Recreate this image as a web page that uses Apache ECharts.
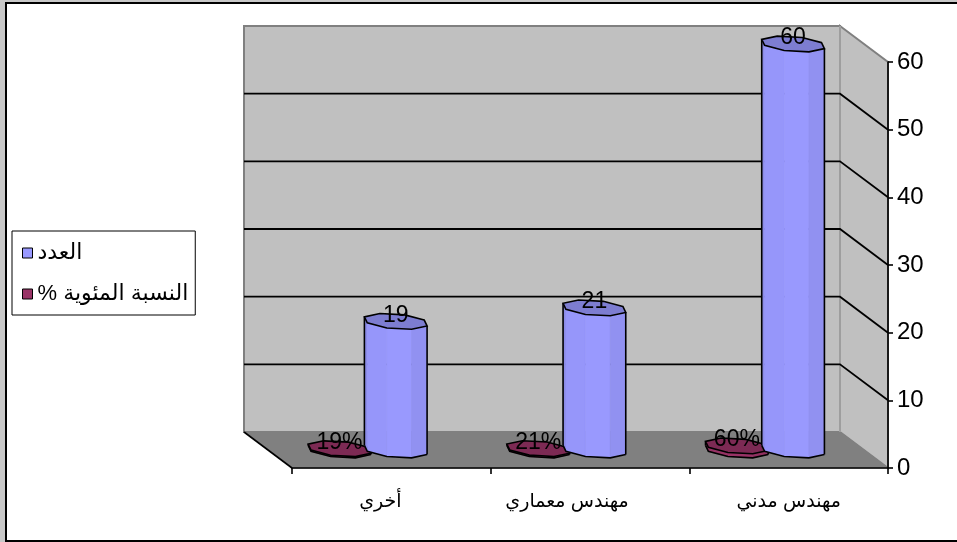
<!DOCTYPE html>
<html>
<head>
<meta charset="utf-8">
<script src="https://cdn.jsdelivr.net/npm/echarts@6/dist/echarts.min.js"></script>
<style>
  html, body { margin: 0; padding: 0; background: #fff; }
  #chart { width: 957px; height: 542px; }
</style>
</head>
<body>
<div id="chart"></div>
<script>
// Categories (axis runs right-to-left, first category on the right)
const categories = ['مهندس مدني', 'مهندس معماري', 'أخري'];
// Head count per category
const countValues = [60, 21, 19];
// Share of the total per category
const shareValues = [0.60, 0.21, 0.19];
// Value-axis ticks
const valueTicks = [0, 10, 20, 30, 40, 50, 60];

const countName = 'العدد';
const shareName = 'النسبة المئوية %\u200F';

// Projected offset from the front plane to the back wall (pixels)
const DEPTH = [-48, -36];
const FONT = 'Arial, "Liberation Sans", "DejaVu Sans", sans-serif';

// Rich-text style key per category label
const labelStyleKeys = ['c0', 'c1', 'c2'];

function shade(rgb, k) {
  return 'rgb(' + rgb.map(c => Math.max(0, Math.min(255, Math.round(c * k)))).join(',') + ')';
}

// Octagonal "cylinder" standing halfway into the floor depth
function makeCylinderRenderer(baseRgb, shift, labelOf) {
  return function (params, api) {
    const idx = api.value(0);
    const val = api.value(1);
    const band = api.size([1, 0])[0];
    const f = api.coord([idx, 0]);
    const t = api.coord([idx, val]);
    const cx = f[0] + shift * band + DEPTH[0] * 0.5;
    const yb = f[1] + DEPTH[1] * 0.5;
    const yt = t[1] + DEPTH[1] * 0.5;
    const rx = band * 0.155;
    const rz = 8;
    const rzx = rz * DEPTH[0] / DEPTH[1];
    const N = 8;
    const start = 10 * Math.PI / 180;
    const ang = [], top = [], bot = [];
    for (let k = 0; k < N; k++) {
      const a = start + k * 2 * Math.PI / N;
      ang.push(a);
      const dx = rx * Math.cos(a) - rzx * Math.sin(a);
      const dy = -rz * Math.sin(a);
      top.push([cx + dx, yt + dy]);
      bot.push([cx + dx, yb + dy]);
    }
    const children = [];
    for (let k = 0; k < N; k++) {
      const k2 = (k + 1) % N;
      if (top[k2][0] > top[k][0]) {
        const m = ang[k] + Math.PI / N;
        const b = 0.88 + 0.12 * Math.cos(m - 245 * Math.PI / 180);
        const col = shade(baseRgb, b);
        children.push({
          type: 'polygon',
          shape: { points: [top[k], top[k2], bot[k2], bot[k]] },
          style: { fill: col, stroke: col, lineWidth: 0.6 }
        });
      }
    }
    // Silhouette: left/right edges and the front part of the base
    let L = 0, R = 0;
    for (let k = 0; k < N; k++) {
      if (top[k][0] < top[L][0]) L = k;
      if (top[k][0] > top[R][0]) R = k;
    }
    const basePts = [];
    let k = L;
    basePts.push(bot[k]);
    while (k !== R) { k = (k + 1) % N; basePts.push(bot[k]); }
    children.push({ type: 'polyline', shape: { points: basePts }, style: { stroke: '#000', lineWidth: 1.6, fill: null } });
    children.push({ type: 'line', shape: { x1: top[L][0], y1: top[L][1], x2: bot[L][0], y2: bot[L][1] }, style: { stroke: '#000', lineWidth: 1.6 } });
    children.push({ type: 'line', shape: { x1: top[R][0], y1: top[R][1], x2: bot[R][0], y2: bot[R][1] }, style: { stroke: '#000', lineWidth: 1.6 } });
    children.push({
      type: 'polygon',
      shape: { points: top },
      style: { fill: shade(baseRgb, 0.82), stroke: '#000', lineWidth: 1.6 }
    });
    children.push({
      type: 'text',
      style: {
        text: labelOf(val), x: cx, y: yt - 6,
        font: '23px ' + FONT, fill: '#000',
        align: 'center', verticalAlign: 'middle',
        textAlign: 'center', textVerticalAlign: 'middle'
      }
    });
    return { type: 'group', children: children };
  };
}

// Back wall, side wall, floor and gridlines
function renderWalls(params, api) {
  const cs = params.coordSys;
  const x0 = cs.x, x1 = cs.x + cs.width;
  const yOf = v => api.coord([0, v])[1];
  const yTop = yOf(valueTicks[valueTicks.length - 1]);
  const yBot = yOf(valueTicks[0]);
  const DX = DEPTH[0], DY = DEPTH[1];
  const children = [];
  children.push({
    type: 'polygon',
    shape: { points: [[x0 + DX, yTop + DY], [x1 + DX, yTop + DY], [x1 + DX, yBot + DY], [x0 + DX, yBot + DY]] },
    style: { fill: '#c0c0c0', stroke: '#808080', lineWidth: 2 }
  });
  children.push({
    type: 'polygon',
    shape: { points: [[x1 + DX, yTop + DY], [x1, yTop], [x1, yBot], [x1 + DX, yBot + DY]] },
    style: { fill: '#c0c0c0', stroke: '#808080', lineWidth: 2 }
  });
  children.push({
    type: 'polygon',
    shape: { points: [[x0 + DX, yBot + DY], [x1 + DX, yBot + DY], [x1, yBot], [x0, yBot]] },
    style: { fill: '#808080', stroke: '#808080', lineWidth: 1 }
  });
  children.push({
    type: 'line',
    shape: { x1: x1 + DX, y1: yBot + DY, x2: x1 + DX, y2: yTop + DY },
    style: { stroke: '#a8a8a8', lineWidth: 1.5 }
  });
  children.push({
    type: 'line',
    shape: { x1: x0 + DX, y1: yBot + DY, x2: x0, y2: yBot },
    style: { stroke: '#000', lineWidth: 1.6 }
  });
  valueTicks.slice(1, -1).forEach(v => {
    const y = yOf(v);
    children.push({
      type: 'polyline',
      shape: { points: [[x0 + DX, y + DY], [x1 + DX, y + DY], [x1, y]] },
      style: { stroke: '#000', lineWidth: 1.8, fill: null }
    });
  });
  return { type: 'group', children: children };
}

const chart = echarts.init(document.getElementById('chart'), null, { renderer: 'canvas' });

const labelRich = (padRight) => ({ fontSize: 19, fontFamily: FONT, color: '#000', padding: [0, padRight, 0, 0] });

chart.setOption({
  animation: false,
  backgroundColor: '#fff',
  graphic: [
    { type: 'rect', z: -10, shape: { x: 0, y: 0, width: 957, height: 542 }, style: { fill: '#c8c8c8' } },
    { type: 'rect', z: -9, shape: { x: 6, y: 3, width: 1000, height: 538 }, style: { fill: '#fff', stroke: '#000', lineWidth: 2 } }
  ],
  grid: { left: 292, right: 69, top: 62, bottom: 74 },
  legend: {
    data: [countName, shareName],
    orient: 'vertical',
    left: 12,
    top: 231,
    backgroundColor: '#fff',
    borderColor: '#000',
    borderWidth: 1,
    borderRadius: 0,
    padding: [11, 7, 10, 10],
    itemGap: 19,
    itemWidth: 10,
    itemHeight: 10,
    icon: 'rect',
    itemStyle: { borderColor: '#000', borderWidth: 1 },
    textStyle: { fontSize: 22, color: '#000', fontFamily: FONT }
  },
  xAxis: {
    type: 'category',
    data: categories,
    inverse: true,
    z: 3,
    axisLine: { lineStyle: { color: '#000', width: 1.6 } },
    axisTick: { show: true, interval: 0, length: 6, lineStyle: { color: '#000', width: 1.6 } },
    axisLabel: {
      interval: 0,
      hideOverlap: false,
      fontSize: 19, color: '#000', margin: 24, fontFamily: FONT,
      formatter: (v, i) => '{' + labelStyleKeys[i] + '|' + v + '}',
      rich: { c0: labelRich(0), c1: labelRich(46), c2: labelRich(22) }
    },
    splitLine: { show: false }
  },
  yAxis: {
    type: 'value',
    position: 'right',
    min: 0,
    max: 60,
    interval: 10,
    z: 3,
    axisLine: { show: true, lineStyle: { color: '#000', width: 1.6 } },
    axisTick: { show: true, length: 5, lineStyle: { color: '#000', width: 1.6 } },
    axisLabel: { fontSize: 24, color: '#000', margin: 9, fontFamily: FONT },
    splitLine: { show: false }
  },
  series: [
    {
      type: 'custom',
      name: 'walls',
      z: 1,
      silent: true,
      renderItem: renderWalls,
      data: [[0, 0]]
    },
    {
      type: 'custom',
      name: shareName,
      z: 4,
      itemStyle: { color: '#993366' },
      encode: { x: 0, y: 1 },
      renderItem: makeCylinderRenderer([153, 51, 102], -0.14, v => Math.round(v * 100) + '%'),
      data: shareValues.map((v, i) => [i, v])
    },
    {
      type: 'custom',
      name: countName,
      z: 5,
      itemStyle: { color: '#9999ff' },
      encode: { x: 0, y: 1 },
      renderItem: makeCylinderRenderer([153, 153, 255], 0.143, v => String(v)),
      data: countValues.map((v, i) => [i, v])
    }
  ]
});
</script>
</body>
</html>
